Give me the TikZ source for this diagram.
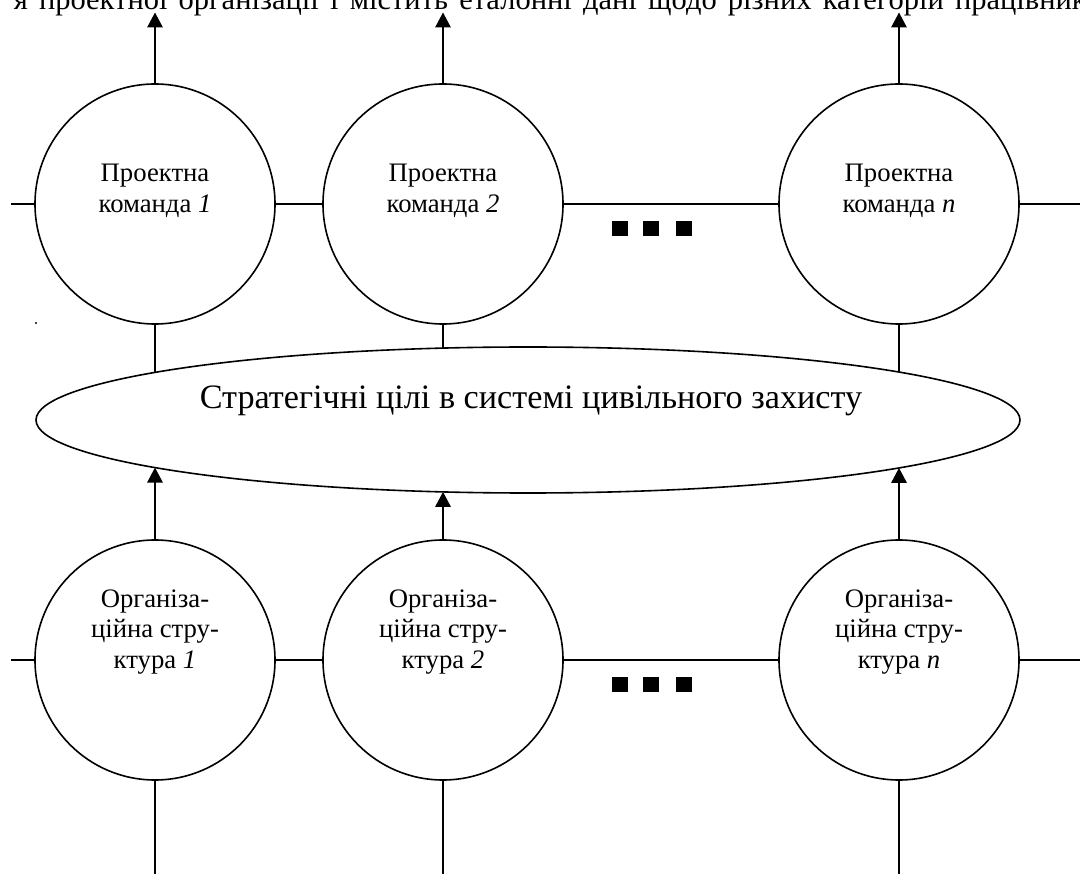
\documentclass[tikz,border=0pt]{standalone}
\usepackage{fontspec}
\setmainfont{Liberation Serif}
\usetikzlibrary{arrows.meta,shapes.geometric,intersections}
\begin{document}
\begin{tikzpicture}[x=1pt,y=-1pt,
  line width=1.6pt,
  unit/.style={draw, circle, minimum size=240pt, inner sep=0pt, outer sep=0pt},
  lbl/.style={anchor=base, inner sep=0pt, font=\fontsize{26.7}{31}\selectfont},
  arr/.style={-{Triangle[length=15pt,width=15.5pt]}},
  sq/.style={fill=black, draw=none, minimum width=16pt, minimum height=15.5pt, inner sep=0pt, outer sep=0pt}
]
\useasboundingbox (0,0) rectangle (1080,874);
\clip (0,0) rectangle (1080,874);

% top clipped line of text (justified line of a paragraph)
\node[anchor=base west, inner sep=0pt, font=\fontsize{30.5}{35}\selectfont] (toptext) at (13,10)
  {\spaceskip=11.2pt я проектної організації і містить еталонні дані щодо різних категорій працівників};

% project teams
\node[unit] (pk1) at (155,204) {};
\node[unit] (pk2) at (443,204) {};
\node[unit] (pkn) at (899,204) {};
\node[lbl] (pk1t) at (155,182) {\begin{tabular}[t]{@{}c@{}}Проектна\\команда \textit{1}\end{tabular}};
\node[lbl] (pk2t) at (443,182) {\begin{tabular}[t]{@{}c@{}}Проектна\\команда \textit{2}\end{tabular}};
\node[lbl] (pknt) at (899,182) {\begin{tabular}[t]{@{}c@{}}Проектна\\команда \textit{n}\end{tabular}};

% organisational structures
\node[unit] (os1) at (155,660) {};
\node[unit] (os2) at (443,660) {};
\node[unit] (osn) at (899,660) {};
\node[lbl] (os1t) at (155,607) {\begin{tabular}[t]{@{}c@{}}Організа-\\ційна стру-\\ктура \textit{1}\end{tabular}};
\node[lbl] (os2t) at (443,607) {\begin{tabular}[t]{@{}c@{}}Організа-\\ційна стру-\\ктура \textit{2}\end{tabular}};
\node[lbl] (osnt) at (899,607) {\begin{tabular}[t]{@{}c@{}}Організа-\\ційна стру-\\ктура \textit{n}\end{tabular}};

% strategic goals ellipse
\node[draw, ellipse, minimum width=984pt, minimum height=146pt, inner sep=0pt, outer sep=0pt] (goal) at (528,420) {};
\node[anchor=base, inner sep=0pt, font=\fontsize{34.2}{40}\selectfont] (goalt) at (531,409) {Стратегічні цілі в системі цивільного захисту};
\path[name path=ge] (goal.center) ellipse [x radius=492pt, y radius=73pt];

% ellipsis squares
\node[sq] (d1) at (619.7,228.3) {};
\node[sq] (d2) at (651.2,228.3) {};
\node[sq] (d3) at (683.7,228.3) {};
\node[sq] (e1) at (619.7,684.5) {};
\node[sq] (e2) at (651.2,684.5) {};
\node[sq] (e3) at (683.7,684.5) {};

% free ends
\coordinate (tl) at (11,204);
\coordinate (tr) at (1086,204);
\coordinate (bl) at (11,660);
\coordinate (br) at (1086,660);
\coordinate (a1) at (155,12.5);
\coordinate (a2) at (443,12.5);
\coordinate (an) at (899,12.5);
\coordinate (b1) at (155,880);
\coordinate (b2) at (443,880);
\coordinate (bn) at (899,880);

% horizontal links
\draw (tl) -- (pk1.west);
\draw (pk1.east) -- (pk2.west);
\draw (pk2.east) -- (pkn.west);
\draw (pkn.east) -- (tr);
\draw (bl) -- (os1.west);
\draw (os1.east) -- (os2.west);
\draw (os2.east) -- (osn.west);
\draw (osn.east) -- (br);

% upward arrows from teams
\draw[arr] (pk1.north) -- (a1);
\draw[arr] (pk2.north) -- (a2);
\draw[arr] (pkn.north) -- (an);

% bottom lines
\draw (os1.south) -- (b1);
\draw (os2.south) -- (b2);
\draw (osn.south) -- (bn);

% links through the ellipse
\path[name path=v1] (pk1.south) -- (os1.north);
\path[name path=v2] (pk2.south) -- (os2.north);
\path[name path=vn] (pkn.south) -- (osn.north);
\draw[name intersections={of=ge and v1, sort by=v1}] (pk1.south) -- (intersection-1);
\draw[arr, name intersections={of=ge and v1, sort by=v1}] (os1.north) -- (intersection-2);
\draw[name intersections={of=ge and v2, sort by=v2}] (pk2.south) -- (intersection-1);
\draw[arr, name intersections={of=ge and v2, sort by=v2}] (os2.north) -- (intersection-2);
\draw[name intersections={of=ge and vn, sort by=vn}] (pkn.south) -- (intersection-1);
\draw[arr, name intersections={of=ge and vn, sort by=vn}] (osn.north) -- (intersection-2);

% stray dot
\fill (36,323) circle (1.2pt);
\end{tikzpicture}
\end{document}
